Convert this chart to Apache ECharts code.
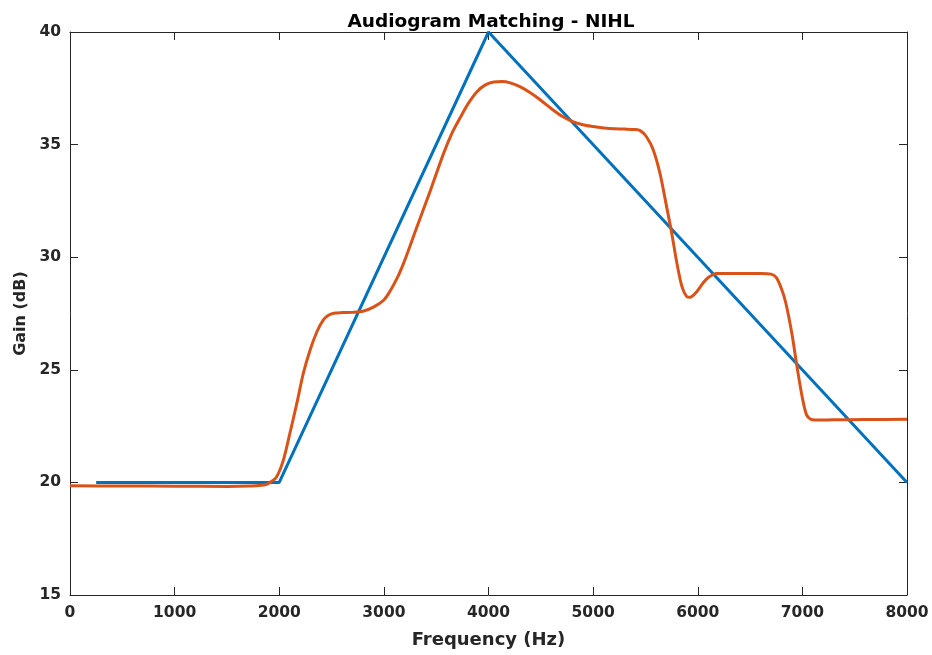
<!DOCTYPE html>
<html>
<head>
<meta charset="utf-8">
<script src="https://cdn.jsdelivr.net/npm/echarts@6/dist/echarts.min.js"></script>
<style>
  html, body { margin: 0; padding: 0; background: #fff; }
  #chart { width: 932px; height: 655px; }
</style>
</head>
<body>
<div id="chart"></div>
<script>
// Target prescription (piecewise linear NIHL audiogram)
const targetFreq = [250, 2000, 4000, 8000];
const targetGain = [20, 20, 40, 20];

// Achieved response of the matched filter bank
const matchFreq = [0, 500, 1000, 1500, 1720, 1850, 1910, 1975, 2040, 2100, 2170, 2230, 2295, 2360, 2420, 2470, 2520,
  2600, 2700, 2800, 2900, 3000, 3060, 3130, 3190, 3250, 3320, 3440, 3570, 3650, 3730, 3810, 3890, 3970,
  4050, 4130, 4200, 4300, 4400, 4500, 4600, 4700, 4800, 4900, 5000, 5100, 5200, 5300, 5400, 5450, 5510,
  5575, 5640, 5700, 5750, 5800, 5850, 5895, 5926, 5990, 6050, 6100, 6180, 6400, 6600, 6700, 6750, 6800,
  6840, 6900, 6950, 7000, 7040, 7080, 7120, 7300, 7600, 8000];
const matchGain = [19.85, 19.84, 19.83, 19.82, 19.84, 19.88, 19.99, 20.25, 21.0, 22.15, 23.55, 24.84, 25.88, 26.69, 27.21, 27.42, 27.51,
  27.54, 27.55, 27.6, 27.78, 28.1, 28.5, 29.1, 29.75, 30.5, 31.4, 32.9, 34.6, 35.5, 36.2, 36.85, 37.35, 37.65,
  37.78, 37.8, 37.75, 37.57, 37.3, 36.97, 36.6, 36.27, 36.03, 35.88, 35.8, 35.74, 35.7, 35.69, 35.67, 35.62, 35.35,
  34.76, 33.7, 32.3, 31.1, 29.75, 28.68, 28.25, 28.22, 28.47, 28.85, 29.1, 29.28, 29.28, 29.28, 29.25, 29.1, 28.6,
  28.0, 26.6, 25.1, 23.75, 23.0, 22.8, 22.77, 22.78, 22.79, 22.8];

const xTicks = [0, 1000, 2000, 3000, 4000, 5000, 6000, 7000, 8000];
const yTicks = [15, 20, 25, 30, 35, 40];

const axisColor = '#262626';
const fontFamily = '"DejaVu Sans", Verdana, sans-serif';

const pairs = (xs, ys) => xs.map((x, i) => [x, ys[i]]);

const chart = echarts.init(document.getElementById('chart'), null, { renderer: 'canvas' });

const xBase = {
  type: 'value',
  min: xTicks[0],
  max: xTicks[xTicks.length - 1],
  interval: xTicks[1] - xTicks[0],
  axisLine: { show: true, onZero: false, lineStyle: { color: axisColor, width: 1 } },
  axisTick: { show: true, inside: true, length: 8, lineStyle: { color: axisColor } },
  splitLine: { show: false }
};
const yBase = {
  type: 'value',
  min: yTicks[0],
  max: yTicks[yTicks.length - 1],
  interval: yTicks[1] - yTicks[0],
  axisLine: { show: true, onZero: false, lineStyle: { color: axisColor, width: 1 } },
  axisTick: { show: true, inside: true, length: 8, lineStyle: { color: axisColor } },
  splitLine: { show: false }
};

chart.setOption({
  animation: false,
  backgroundColor: '#ffffff',
  title: {
    text: 'Audiogram Matching - NIHL',
    left: 486,
    textAlign: 'center',
    top: 8,
    textStyle: { fontFamily, fontWeight: 'bold', fontSize: 18.5, color: '#000' }
  },
  grid: { left: 70, right: 25, top: 32, bottom: 60 },
  xAxis: [
    Object.assign({}, xBase, {
      position: 'bottom',
      name: 'Frequency (Hz)',
      nameLocation: 'middle',
      nameGap: 36,
      nameTextStyle: { fontFamily, fontWeight: 'bold', fontSize: 18, color: axisColor },
      axisLabel: { margin: 10, fontFamily, fontWeight: 'bold', fontSize: 15.5, color: axisColor,
        formatter: (v) => String(v) }
    }),
    Object.assign({}, xBase, { position: 'top', axisLabel: { show: false } })
  ],
  yAxis: [
    Object.assign({}, yBase, {
      position: 'left',
      name: 'Gain (dB)',
      nameLocation: 'middle',
      nameGap: 38,
      nameRotate: 90,
      nameTextStyle: { fontFamily, fontWeight: 'bold', fontSize: 16, color: axisColor },
      axisLabel: { margin: 9, fontFamily, fontWeight: 'bold', fontSize: 15.5, color: axisColor,
        formatter: (v) => String(v) }
    }),
    Object.assign({}, yBase, { position: 'right', axisLabel: { show: false } })
  ],
  series: [
    {
      name: 'Target',
      type: 'line',
      data: pairs(targetFreq, targetGain),
      showSymbol: false,
      lineStyle: { color: '#0072BD', width: 3 },
      itemStyle: { color: '#0072BD' },
      z: 2
    },
    {
      name: 'Matched',
      type: 'line',
      data: pairs(matchFreq, matchGain),
      showSymbol: false,
      smooth: 0.3,
      lineStyle: { color: '#D95319', width: 3 },
      itemStyle: { color: '#D95319' },
      z: 3
    }
  ]
});
</script>
</body>
</html>
